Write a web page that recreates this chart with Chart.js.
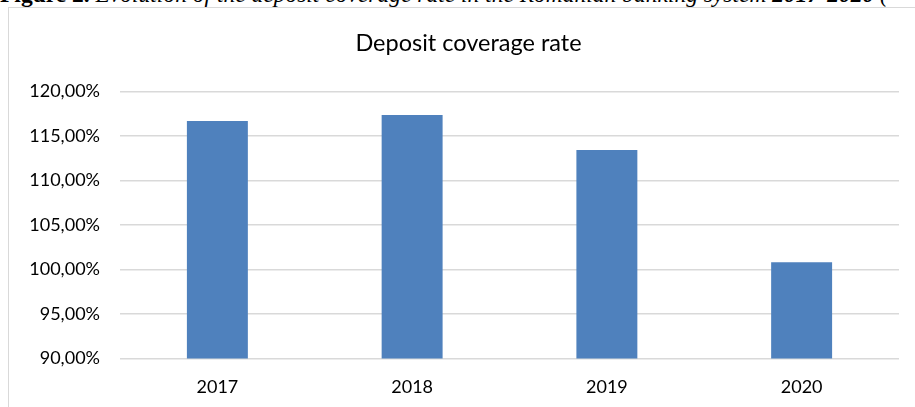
<!DOCTYPE html>
<html>
<head>
<meta charset="utf-8">
<script src="https://cdn.jsdelivr.net/npm/chart.js@4.4.1/dist/chart.umd.min.js"></script>
<style>
  html, body { margin: 0; padding: 0; width: 915px; height: 407px; overflow: hidden; background: #fff; }
  #caption {
    position: absolute; left: 0; top: -19px; white-space: nowrap;
    font-family: "Liberation Serif", "Times New Roman", serif; font-size: 23.5px; color: #000;
  }
  #caption b { font-weight: bold; }
  #caption i { font-style: italic; }
  #frame {
    position: absolute; left: 8px; top: 7px; width: 940px; height: 440px;
    border: 1px solid #d9d9d9; box-sizing: border-box;
  }
  #wrap { position: absolute; left: 0; top: 0; width: 915px; height: 407px; }
</style>
</head>
<body>
<div id="caption"><b>Figure 2.</b> <i>Evolution of the deposit coverage rate in the Romanian banking system <b>2017-2020</b> (</i></div>
<div id="frame"></div>
<div id="wrap"><canvas id="c" width="915" height="407"></canvas></div>
<script>
// Deposit coverage rate by year (%)
const years = ['2017', '2018', '2019', '2020'];
const coverageRate = [116.69, 117.36, 113.43, 100.81];
const yTicks = [90, 95, 100, 105, 110, 115, 120];
const chartTitle = 'Deposit coverage rate';

const FONT = 'Lato, Calibri, "DejaVu Sans", sans-serif';

const fmtPct = v => v.toFixed(2).replace('.', ',') + '%';

// Centered title drawn over the full (wider) chart frame
const titlePlugin = {
  id: 'frameTitle',
  afterDraw(chart) {
    const ctx = chart.ctx;
    ctx.save();
    ctx.font = '23.5px ' + FONT;
    ctx.fillStyle = '#000';
    ctx.textAlign = 'center';
    ctx.textBaseline = 'alphabetic';
    ctx.fillText(chartTitle, 468.5, 51);
    ctx.restore();
  }
};

new Chart(document.getElementById('c'), {
  type: 'bar',
  data: {
    labels: years,
    datasets: [{
      label: chartTitle,
      data: coverageRate,
      backgroundColor: '#4f81bd',
      borderWidth: 0,
      categoryPercentage: 1,
      barPercentage: 0.313
    }]
  },
  options: {
    responsive: false,
    animation: false,
    layout: { padding: { top: 91.5, right: 16, left: 0, bottom: 0 } },
    plugins: { legend: { display: false }, title: { display: false }, tooltip: { enabled: false } },
    scales: {
      x: {
        grid: { display: false, drawTicks: false },
        border: { display: false },
        ticks: { color: '#000', font: { family: FONT, size: 18 }, padding: 17.5 },
        afterFit(scale) { scale.height = 407 - 358.5; }
      },
      y: {
        min: 90, max: 120,
        afterBuildTicks(scale) { scale.ticks = yTicks.map(v => ({ value: v })); },
        grid: { color: '#d9d9d9', lineWidth: 1.5, drawTicks: false },
        border: { display: false },
        ticks: { color: '#000', font: { family: FONT, size: 18 }, padding: 20, callback: v => fmtPct(v) },
        afterFit(scale) { scale.width = 120; }
      }
    }
  },
  plugins: [titlePlugin]
});
</script>
</body>
</html>
